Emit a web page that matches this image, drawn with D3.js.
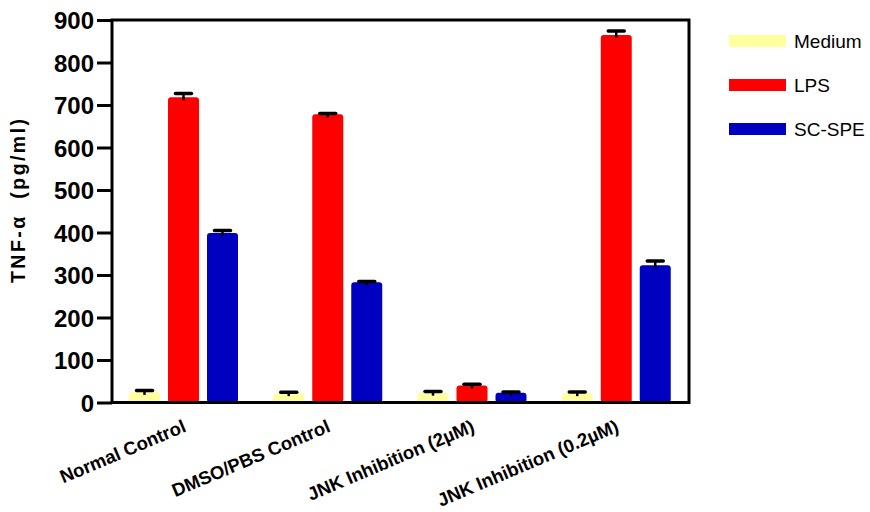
<!DOCTYPE html>
<html>
<head>
<meta charset="utf-8">
<script src="https://cdn.jsdelivr.net/npm/d3@7"></script>
<style>
  body { margin: 0; background: #fff; }
  svg { display: block; font-family: "Liberation Sans", Arial, sans-serif; }
</style>
</head>
<body>
<svg id="chart" width="870" height="512"></svg>
<script>
// TNF-alpha secretion per treatment group
const groups = ["Normal Control", "DMSO/PBS Control", "JNK Inhibition (2\u00b5M)", "JNK Inhibition (0.2\u00b5M)"];
const seriesNames = ["Medium", "LPS", "SC-SPE"];
const seriesColors = ["#ffffa0", "#ff0000", "#0000c0"];
const mediumValues = [25, 22, 23, 22];
const lpsValues = [718, 678, 40, 865];
const scspeValues = [399, 283, 23, 323];
const mediumErrors = [3, 2, 3, 3];
const lpsErrors = [9, 2, 3, 9];
const scspeErrors = [6, 2, 2, 10];
const yTicks = [0, 100, 200, 300, 400, 500, 600, 700, 800, 900];

const values = [mediumValues, lpsValues, scspeValues];
const errors = [mediumErrors, lpsErrors, scspeErrors];

const svg = d3.select("#chart");
const plotLeft = 112, plotRight = 689, plotTop = 20, plotBottom = 402.5;

const y = d3.scaleLinear().domain([0, 900]).range([plotBottom, plotTop]);
const x0 = d3.scaleBand().domain(groups).range([plotLeft, plotRight]).padding(0);
const x1 = d3.scaleBand().domain(seriesNames)
  .range([17, 126]).paddingInner(8 / 39).paddingOuter(0);

// bars and error bars
const g = svg.append("g");
groups.forEach((grp, gi) => {
  seriesNames.forEach((s, si) => {
    const v = values[si][gi], e = errors[si][gi];
    const bx = x0(grp) + x1(s);
    const bw = x1.bandwidth();
    g.append("rect")
      .attr("x", bx).attr("y", y(v))
      .attr("width", bw).attr("height", y(0) - y(v))
      .attr("rx", 3).attr("ry", 3)
      .attr("fill", seriesColors[si]);
    const cx = bx + bw / 2;
    g.append("line")
      .attr("x1", cx).attr("x2", cx)
      .attr("y1", y(v) + 3).attr("y2", y(v + e))
      .attr("stroke", "#000").attr("stroke-width", 2.5);
    g.append("line")
      .attr("x1", cx - 8).attr("x2", cx + 8)
      .attr("y1", y(v + e)).attr("y2", y(v + e))
      .attr("stroke", "#000").attr("stroke-width", 3.5)
      .attr("stroke-linecap", "round");
  });
});

// frame
svg.append("rect")
  .attr("x", plotLeft).attr("y", plotTop)
  .attr("width", plotRight - plotLeft).attr("height", plotBottom - plotTop)
  .attr("fill", "none").attr("stroke", "#000").attr("stroke-width", 3);

// y axis
const yAxis = d3.axisLeft(y).tickValues(yTicks).tickSize(15).tickPadding(3).tickFormat(d3.format("d"));
const ya = svg.append("g").attr("transform", `translate(${plotLeft},0)`).call(yAxis);
ya.select(".domain").remove();
ya.selectAll(".tick line").attr("stroke", "#000").attr("stroke-width", 3);
ya.selectAll(".tick text")
  .attr("font-size", 24).attr("font-weight", "bold")
  .attr("font-family", "Liberation Sans, Arial, sans-serif")
  .attr("fill", "#000").attr("dy", "0.36em");

// y axis title
svg.append("text")
  .attr("transform", "translate(25,201) rotate(-90)")
  .attr("text-anchor", "middle")
  .attr("font-size", 19.5).attr("font-weight", "bold")
  .attr("xml:space", "preserve")
  .attr("textLength", 164).attr("lengthAdjust", "spacing")
  .text("TNF-\u03b1  (pg/ml)");

// x category labels
groups.forEach(grp => {
  const cx = x0(grp) + x0.bandwidth() / 2 + 3;
  svg.append("text")
    .attr("transform", `translate(${cx},431) rotate(-23)`)
    .attr("text-anchor", "end")
    .attr("font-size", 18.5).attr("font-weight", "bold")
    .text(grp);
});

// legend
seriesNames.forEach((s, i) => {
  const ly = 35 + i * 44;
  svg.append("rect")
    .attr("x", 729).attr("y", ly).attr("width", 57).attr("height", 12)
    .attr("fill", seriesColors[i]);
  svg.append("text")
    .attr("x", 794).attr("y", ly + 6).attr("dy", "0.36em")
    .attr("font-size", 19)
    .text(s);
});
</script>
</body>
</html>
